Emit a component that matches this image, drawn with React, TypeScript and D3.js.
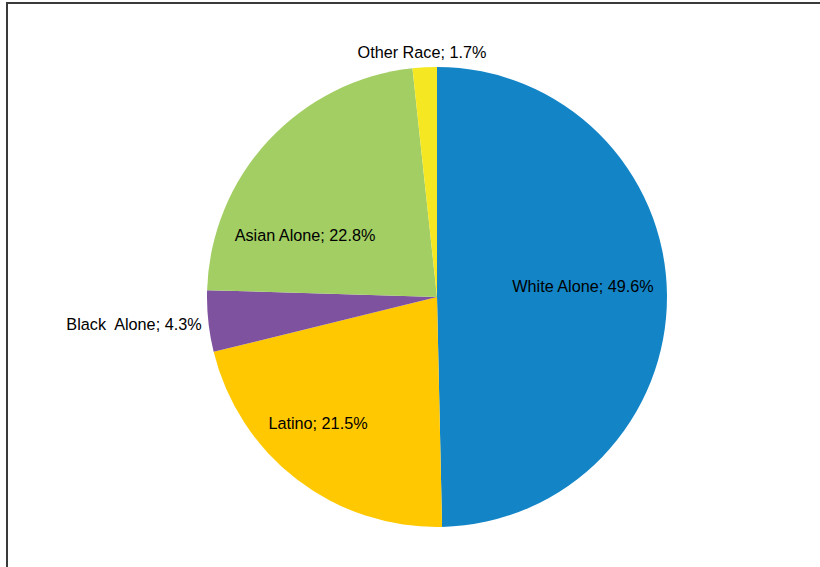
import React from "react";
import * as d3 from "d3";

const categories = ["White Alone", "Latino", "Black  Alone", "Asian Alone", "Other Race"];
const values = [49.6, 21.5, 4.3, 22.8, 1.7];
const colors = ["#1385C7", "#FFC800", "#7F529F", "#A2CE63", "#F5E823"];
// label placement relative to pie center (dx, dy)
const labelOffsets: [number, number][] = [
  [146, -11],
  [-119, 126],
  [-303, 27],
  [-132, -62],
  [-15, -245],
];

export default function App() {
  const W = 820, H = 567;
  const cx = 437, cy = 297, r = 230;
  const sx = 0.955;
  const pie = d3.pie<number>().sort(null).value((d) => d)(values);
  const arc = d3.arc<d3.PieArcDatum<number>>().innerRadius(0).outerRadius(r);
  return (
    <div style={{ position: "absolute", left: 0, top: 0 }}>
      <svg width={W} height={H} style={{ display: "block" }}>
        <rect x={0} y={0} width={W} height={H} fill="#fff" />
        <rect x={7} y={3} width={W + 10} height={H + 10} fill="none" stroke="#3a3a3a" strokeWidth={2} />
        <g transform={`translate(${cx},${cy})`}>
          {pie.map((p, i) => (
            <path key={i} d={arc(p) || ""} fill={colors[i]} />
          ))}
          {pie.map((p, i) => (
            <text
              key={"t" + i}
              transform={`translate(${labelOffsets[i][0]},${labelOffsets[i][1]}) scale(${sx},1)`}
              textAnchor="middle"
              dominantBaseline="central"
              fontFamily="'Liberation Sans', Arial, sans-serif"
              fontSize={17}
              fill="#000"
              style={{ whiteSpace: "pre" }}
            >
              {`${categories[i]}; ${values[i].toFixed(1)}%`}
            </text>
          ))}
        </g>
      </svg>
    </div>
  );
}
